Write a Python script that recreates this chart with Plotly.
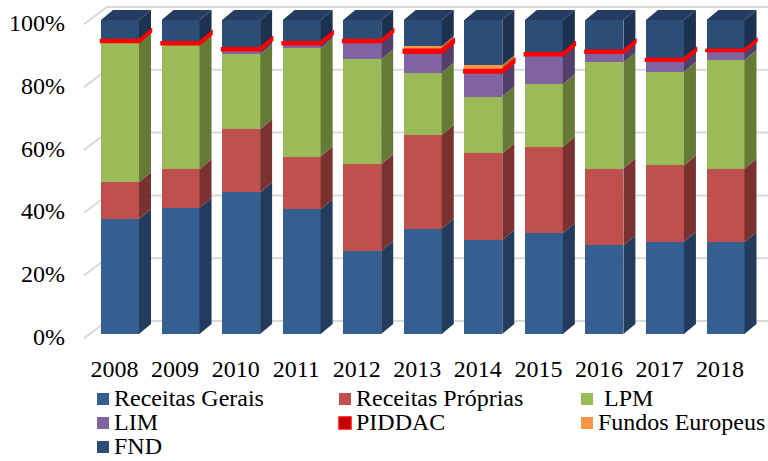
import plotly.graph_objects as go

# ---- data (shares of funding by source, % of yearly total) ----
years = ["2008", "2009", "2010", "2011", "2012", "2013", "2014", "2015", "2016", "2017", "2018"]
receitas_gerais = [36.6, 40.2, 45.1, 39.7, 26.4, 33.5, 29.9, 32.1, 28.2, 29.4, 29.2]
receitas_proprias = [11.7, 12.3, 20.1, 16.8, 27.7, 29.9, 27.6, 27.5, 24.5, 24.3, 23.4]
lpm = [44.7, 39.8, 23.9, 34.5, 33.4, 19.8, 18.1, 19.9, 33.8, 29.8, 34.7]
lim = [0.0, 0.0, 1.3, 1.3, 5.5, 6.4, 7.7, 9.3, 3.1, 3.5, 2.8]
piddac = [0.6, 0.6, 0.6, 0.6, 0.6, 0.9, 0.8, 0.6, 0.6, 0.6, 0.4]
fundos_europeus = [0.0, 0.0, 0.0, 0.0, 0.0, 1.2, 1.5, 0.0, 0.0, 0.0, 0.0]
fnd = [6.4, 7.1, 9.0, 7.1, 6.4, 8.3, 14.4, 10.6, 9.8, 12.4, 9.5]
y_ticks = [0, 20, 40, 60, 80, 100]

# name, values, front colour, side colour
series = [
    ("Receitas Gerais", receitas_gerais, "#365F91", "#233C5E"),
    ("Receitas Próprias", receitas_proprias, "#C0504D", "#7A3230"),
    ("LPM", lpm, "#9BBB59", "#667A38"),
    ("LIM", lim, "#8064A2", "#52406A"),
    ("PIDDAC", piddac, "#FF0000", "#FF0000"),
    ("Fundos Europeus", fundos_europeus, "#F79646", "#B86A30"),
    ("FND", fnd, "#2C4D75", "#1D3150"),
]
TOP_COLOR = "#243D60"
GRID_COLOR = "#D9D9D9"
FONT = "Liberation Serif"

# ---- page geometry (pixels) ----
W, H = 768, 461
ML = 66            # left margin (room for % labels)
B = 352            # bottom of plotting region
X0, PITCH = 120.0, 60.55   # pixel centre of first column, column pitch
Y0, PXP = 334.0, 3.14      # pixel of 0 %, pixels per percent


def px_to_x(px):
    return (px - X0) / PITCH


def py_to_p(py):
    return (Y0 - py) / PXP


def paper_x(px):
    return (px - ML) / (W - ML)


def paper_y(py):
    return (B - py) / B


BAR_W = 38 / PITCH
DX = 12 / PITCH        # depth offset of the 3-D columns
DP = 10 / PXP
xs = list(range(len(years)))

fig = go.Figure()
for name, vals, front, _side in series:
    fig.add_trace(go.Bar(
        x=xs, y=vals, name=name, width=BAR_W,
        marker=dict(color=front, line=dict(width=0)),
        showlegend=False, hoverinfo="skip",
    ))

shapes = []

# back-wall gridlines with the slanted side-wall segment
wall_left_x = px_to_x(84)
wall_back_x = px_to_x(107)
right_x = px_to_x(W)
for t in y_ticks:
    p_front = t - 4.3 / PXP
    p_back = t + 13 / PXP
    shapes.append(dict(
        type="path", layer="below", xref="x", yref="y",
        path=f"M{wall_left_x},{p_front} L{wall_back_x},{p_back} L{right_x},{p_back}",
        line=dict(color=GRID_COLOR, width=2),
    ))

# side faces, top faces and PIDDAC highlight, derived from stacked shares
red_paths = []
for i in xs:
    total = sum(s[1][i] for s in series)
    base = 0.0
    xl, xr = i - BAR_W / 2, i + BAR_W / 2
    for name, vals, front, side in series:
        v = vals[i] / total * 100
        if v <= 0:
            continue
        y0, y1 = base, base + v
        shapes.append(dict(
            type="path", layer="above", xref="x", yref="y",
            path=f"M{xr},{y0} L{xr + DX},{y0 + DP} L{xr + DX},{y1 + DP} L{xr},{y1} Z",
            fillcolor=side, line=dict(width=0),
        ))
        if name == "PIDDAC":
            red_paths.append(
                f"M{xl},{y0} L{xr},{y0} L{xr + DX},{y0 + DP} L{xr + DX},{y1 + DP} L{xr},{y1} L{xl},{y1} Z"
            )
        base = y1
    shapes.append(dict(
        type="path", layer="above", xref="x", yref="y",
        path=f"M{xl},{base} L{xl + DX},{base + DP} L{xr + DX},{base + DP} L{xr},{base} Z",
        fillcolor=TOP_COLOR, line=dict(width=0),
    ))
for pth in red_paths:
    shapes.append(dict(
        type="path", layer="above", xref="x", yref="y", path=pth,
        fillcolor="#FF0000", line=dict(color="#FF0000", width=2.5),
    ))

# legend (three columns)
legend_items = [
    ("Receitas Gerais", "#365F91", None, 97, 114, 399),
    ("Receitas Próprias", "#C0504D", None, 339, 356, 399),
    ("LPM", "#9BBB59", None, 581, 604, 399),
    ("LIM", "#8064A2", None, 97, 114, 423),
    ("PIDDAC", "#C00000", "#FF0000", 339, 356, 423),
    ("Fundos Europeus", "#F79646", None, 581, 598, 423),
    ("FND", "#2C4D75", None, 97, 114, 447),
]
annotations = []
for label, col, edge, mx, tx, cy in legend_items:
    shapes.append(dict(
        type="rect", xref="paper", yref="paper",
        x0=paper_x(mx), x1=paper_x(mx + 12), y0=paper_y(cy + 6), y1=paper_y(cy - 6),
        fillcolor=col, line=dict(color=edge if edge else col, width=1.5 if edge else 0),
    ))
    annotations.append(dict(
        xref="paper", yref="paper", x=paper_x(tx - 2), y=paper_y(cy - 1),
        xanchor="left", yanchor="middle", text=label, showarrow=False,
        font=dict(family=FONT, size=24, color="black"),
    ))

fig.update_layout(
    width=W, height=H,
    margin=dict(l=ML, r=0, t=0, b=H - B, pad=0),
    paper_bgcolor="white", plot_bgcolor="white",
    barmode="stack", barnorm="percent", bargap=0,
    shapes=shapes, annotations=annotations,
    xaxis=dict(
        range=[px_to_x(ML), px_to_x(W)],
        tickvals=[i - 0.09 for i in xs], ticktext=years,
        showgrid=False, zeroline=False, showline=False, ticks="",
        tickfont=dict(family=FONT, size=24, color="black"),
    ),
    yaxis=dict(
        range=[py_to_p(B), py_to_p(0)],
        tickvals=[t - 0.8 for t in y_ticks], ticktext=[f"{t}%" for t in y_ticks],
        showgrid=False, zeroline=False, showline=False, ticks="",
        tickfont=dict(family=FONT, size=24, color="black"),
    ),
)

fig.write_html("out.html")
